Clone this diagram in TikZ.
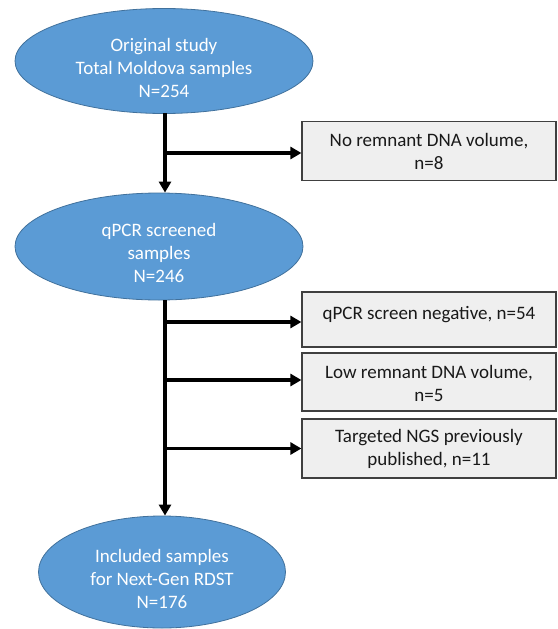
\documentclass[tikz,border=0pt]{standalone}
\usepackage{fontspec}
\setmainfont{Carlito}
\usetikzlibrary{shapes.geometric,arrows.meta}
\definecolor{ellfill}{HTML}{5B9BD5}
\definecolor{elldraw}{HTML}{41719C}
\definecolor{boxfill}{HTML}{EFEFEF}
\definecolor{boxdraw}{HTML}{404040}
\tikzset{
  oval/.style={ellipse, fill=ellfill, draw=elldraw, line width=0.8pt, inner sep=0pt},
  ovaltext/.style={text=white, align=center, font=\fontsize{19}{23}\selectfont, yshift=-6.5pt},
  exbox/.style={rectangle, fill=boxfill, draw=boxdraw, line width=1.2pt, inner sep=0pt,
    minimum width=254pt, align=center, font=\fontsize{19}{23}\selectfont, text=black!90},
  flow/.style={line width=3.5pt, -{Triangle[length=11pt,width=12pt]}},
}
\begin{document}
\begin{tikzpicture}[x=1pt,y=1pt]
\useasboundingbox (0,0) rectangle (557,-629);
\node[oval, minimum width=298pt, minimum height=105pt,
  label={[ovaltext]center:Original study\\Total Moldova samples\\N=254}] (e1) at (164,-61) {};
\node[oval, minimum width=288pt, minimum height=107pt,
  label={[ovaltext]center:qPCR screened\\samples\\N=246}] (e2) at (159,-246.5) {};
\node[oval, minimum width=247pt, minimum height=112pt,
  label={[ovaltext]center:Included samples\\for Next-Gen RDST\\N=176}] (e3) at (162,-572) {};
\node[exbox, minimum height=59pt] (b1) at (429,-151) {No remnant DNA volume,\\n=8};
\node[exbox, minimum height=55pt, text height=13pt, text depth=14pt] (b2) at (429,-319.5) {qPCR screen negative, n=54};
\node[exbox, minimum height=58pt] (b3) at (429,-382) {\rule{0pt}{17pt}Low remnant DNA volume,\\n=5};
\node[exbox, minimum height=59pt] (b4) at (429,-448.5) {Targeted NGS previously\\published, n=11};
\coordinate (v1) at (165,-113);
\coordinate (v2) at (165,-300);
\draw[flow] (v1) -- (v1 |- e2.north);
\draw[flow] (v1 |- 0,-153) -- (b1.west |- 0,-153);
\draw[flow] (v2) -- (v2 |- e3.north);
\draw[flow] (v2 |- 0,-322) -- (b2.west |- 0,-322);
\draw[flow] (v2 |- 0,-380) -- (b3.west |- 0,-380);
\draw[flow] (v2 |- b4.west) -- (b4.west);
\end{tikzpicture}
\end{document}
